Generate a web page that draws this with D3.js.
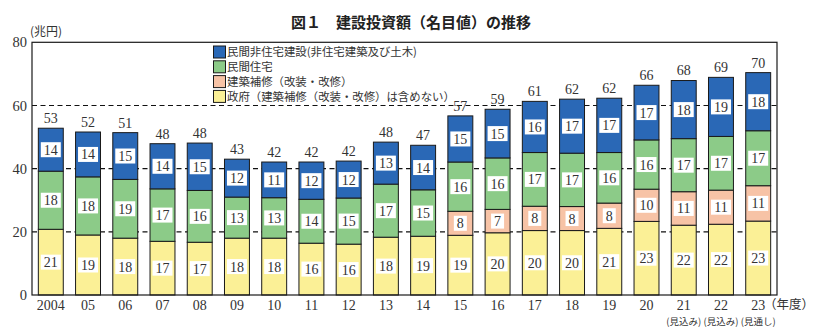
<!DOCTYPE html>
<html><head><meta charset="utf-8">
<script src="https://cdn.jsdelivr.net/npm/d3@7"></script>
<style>
html,body{margin:0;padding:0;background:#fff;}
svg{display:block;}
</style></head>
<body>
<svg id="c" width="820" height="336"></svg>
<script>
// ---- data ----
const years = ["2004","05","06","07","08","09","10","11","12","13","14","15","16","17","18","19","20","21","22","23"];
const subLabels = ["","","","","","","","","","","","","","","","","","(見込み)","(見込み)","(見通し)"];
const government = [20.8,19.0,18.0,17.0,16.7,18.0,18.0,16.4,16.1,18.3,18.6,18.9,19.7,20.4,20.4,21.1,23.3,22.1,22.4,23.4];
const repair     = [null,null,null,null,null,null,null,null,null,null,null,7.6,7.4,7.7,7.6,8.0,10.2,10.6,10.8,11.2];
const housing    = [18.4,18.4,18.6,16.6,16.4,13.0,12.8,13.9,14.6,16.8,14.7,15.6,16.3,17.0,16.9,16.0,15.6,16.8,17.0,17.4];
const nonRes     = [13.6,14.2,14.8,14.3,15.0,12.0,11.3,11.8,11.7,13.3,14.1,14.6,15.4,16.2,17.1,17.2,17.3,18.4,18.7,18.4];
const yTicks = [0,20,40,60,80];
const seriesNames = ["民間非住宅建設(非住宅建築及び土木)","民間住宅","建築補修（改装・改修）","政府（建築補修（改装・改修）は含めない）"];
const seriesColors = ["#2a68b6","#8ccb88","#f7c3a6","#fbf096"];

// ---- layout ----
const svg = d3.select("#c");
const L = 32, R = 777, T = 42.3, B = 295;
const x = d3.scaleBand().domain(years).range([L, R]).paddingInner(0.33).paddingOuter(0.17);
const y = d3.scaleLinear().domain([0, 80]).range([B, T]);
const numFont = "'Liberation Serif','Times New Roman',serif";
const jpFont = "'Noto Sans CJK JP','Noto Sans',sans-serif";
const txt = "#333";

// stacked data: order bottom->top: government, repair, housing, nonRes
const layers = [
  {vals: government, color: seriesColors[3]},
  {vals: repair, color: seriesColors[2]},
  {vals: housing, color: seriesColors[1]},
  {vals: nonRes, color: seriesColors[0]}
];

// grid
svg.append("g").selectAll("line").data(yTicks.filter(d => d > 0 && d < 80)).join("line")
  .attr("x1", L).attr("x2", R).attr("y1", d => y(d)).attr("y2", d => y(d))
  .attr("stroke", "#111").attr("stroke-width", 1.1).attr("stroke-dasharray", "5,3.5");

// y axis labels
svg.append("g").selectAll("text").data(yTicks).join("text")
  .attr("x", 27).attr("y", d => y(d)).attr("dy", "0.35em").attr("text-anchor", "end")
  .attr("font-family", numFont).attr("font-size", 14.5).attr("fill", txt).text(d => d);

svg.append("text").attr("x", 30).attr("y", 32).attr("dy", "0.35em")
  .attr("font-family", jpFont).attr("font-size", 12).attr("fill", txt).text("(兆円)");

// bars
const barsG = svg.append("g");
const labelsG = svg.append("g");
years.forEach((yr, i) => {
  let base = 0;
  layers.forEach(layer => {
    const v = layer.vals[i];
    if (v == null) return;
    const y0 = y(base), y1 = y(base + v);
    barsG.append("rect")
      .attr("x", x(yr)).attr("width", x.bandwidth())
      .attr("y", y1).attr("height", y0 - y1)
      .attr("fill", layer.color).attr("stroke", "#1a1a1a").attr("stroke-width", 1);
    const lab = String(Math.round(v));
    const cx = x(yr) + x.bandwidth() / 2, cy = (y0 + y1) / 2;
    const w = lab.length === 1 ? 13 : 20;
    labelsG.append("rect").attr("x", cx - w / 2).attr("y", cy - 7.5).attr("width", w).attr("height", 15).attr("fill", "#fff");
    labelsG.append("text").attr("x", cx).attr("y", cy).attr("dy", "0.36em").attr("text-anchor", "middle")
      .attr("font-family", numFont).attr("font-size", 14).attr("fill", txt).text(lab);
    base += v;
  });
  labelsG.append("text").attr("x", x(yr) + x.bandwidth() / 2).attr("y", y(base) - 10).attr("dy", "0.35em")
    .attr("text-anchor", "middle").attr("font-family", numFont).attr("font-size", 14).attr("fill", txt)
    .text(Math.round(base));
});

// frame
svg.append("rect").attr("x", L).attr("y", T).attr("width", R - L).attr("height", B - T)
  .attr("fill", "none").attr("stroke", "#1a1a1a").attr("stroke-width", 1.2);

// x labels
svg.append("g").selectAll("text").data(years).join("text")
  .attr("x", d => x(d) + x.bandwidth() / 2).attr("y", 305).attr("dy", "0.35em").attr("text-anchor", "middle")
  .attr("font-family", numFont).attr("font-size", 14).attr("fill", txt).text(d => d);
svg.append("g").selectAll("text").data(years.map((d, i) => ({d, s: subLabels[i]})).filter(o => o.s)).join("text")
  .attr("x", o => x(o.d) + x.bandwidth() / 2).attr("y", 322).attr("dy", "0.35em").attr("text-anchor", "middle")
  .attr("font-family", jpFont).attr("font-size", 9.5).attr("fill", txt).text(o => o.s);
svg.append("text").attr("x", 764).attr("y", 305).attr("dy", "0.35em")
  .attr("font-family", jpFont).attr("font-size", 12.5).attr("fill", txt).text("（年度）");

// title
svg.append("text").attr("x", 411).attr("y", 22.5).attr("dy", "0.35em").attr("text-anchor", "middle")
  .attr("font-family", jpFont).attr("font-size", 15).attr("font-weight", "bold").attr("fill", "#222")
  .text("図１　建設投資額（名目値）の推移");

// legend
const lg = svg.append("g");
const legendOrder = [0,1,2,3];
legendOrder.forEach((k, j) => {
  const cy = 52 + j * 14.8;
  lg.append("rect").attr("x", 213.5).attr("y", cy - 6).attr("width", 12).attr("height", 12)
    .attr("fill", seriesColors[k]).attr("stroke", "#1a1a1a").attr("stroke-width", 1);
  lg.append("text").attr("x", 227).attr("y", cy).attr("dy", "0.36em")
    .attr("font-family", jpFont).attr("font-size", 11.4).attr("fill", txt).text(seriesNames[k]);
});
</script>
</body></html>
